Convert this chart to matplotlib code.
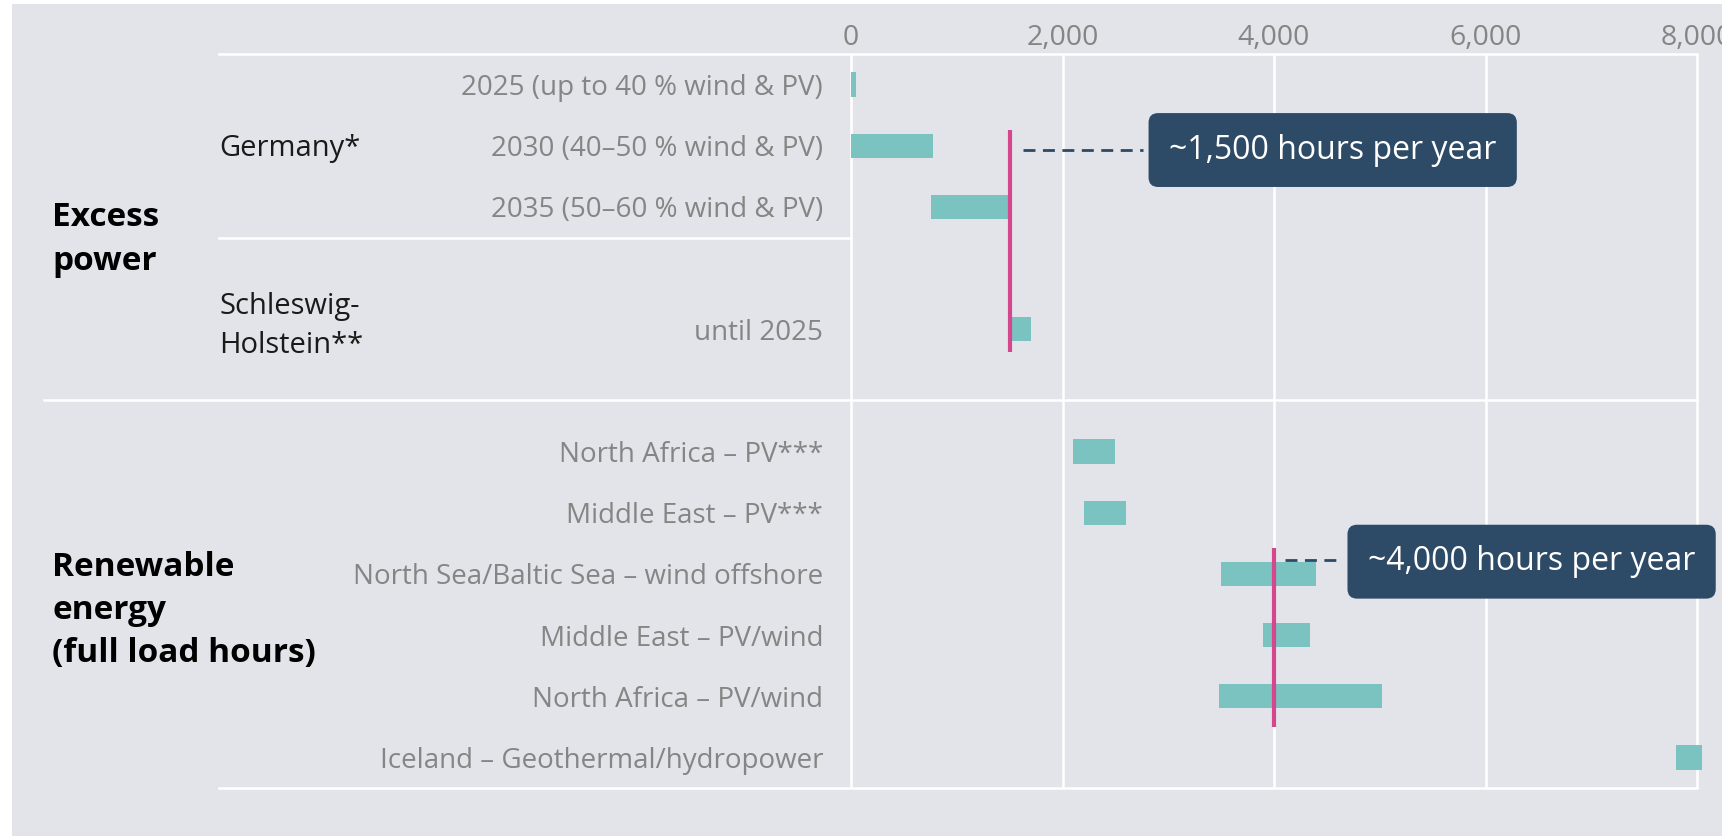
import matplotlib.pyplot as plt
import matplotlib.transforms as mtransforms
from matplotlib.patches import Rectangle

# hours per year ranges (low / high) for each row
labels = ["2025 (up to 40 % wind & PV)", "2030 (40–50 % wind & PV)",
          "2035 (50–60 % wind & PV)", "until 2025",
          "North Africa – PV***", "Middle East – PV***",
          "North Sea/Baltic Sea – wind offshore", "Middle East – PV/wind",
          "North Africa – PV/wind", "Iceland – Geothermal/hydropower"]
groups = ["Germany*", "Germany*", "Germany*", "Schleswig-\nHolstein**",
          "re", "re", "re", "re", "re", "re"]
low = [0, 0, 760, 1500, 2100, 2200, 3500, 3900, 3480, 7800]
high = [50, 780, 1490, 1700, 2500, 2600, 4400, 4340, 5020, 8050]

excess_level = 1500
renewable_level = 4000
xticks = [0, 2000, 4000, 6000, 8000]

BG = "#E3E4E9"
TEAL = "#7BC3C1"
PINK = "#D4478D"
NAVY = "#2D4A66"
GREY = "#858585"

plt.rcParams["font.family"] = ["Open Sans", "DejaVu Sans"]

W, H = 1722, 836
fig = plt.figure(figsize=(W / 100, H / 100), dpi=100, facecolor="white")
fig.patches.append(Rectangle((12 / W, 0), 1, (H - 4) / H, transform=fig.transFigure,
                             facecolor=BG, edgecolor="none", zorder=-10))

ax = fig.add_axes([851 / W, (H - 788) / H, 846 / W, 734 / H])
ax.set_facecolor("none")

# row positions: one empty row between groups
ypos = []
y = 0
for i, g in enumerate(groups):
    if i > 0 and g != groups[i - 1]:
        y += 1
    ypos.append(y)
    y += 1 if i < len(groups) - 1 else 0

ax.set_xlim(0, 8000)
ax.set_ylim(ypos[-1] + 0.5, -0.5)

for s in ax.spines.values():
    s.set_visible(False)

# vertical grid
for xv in xticks:
    ax.plot([xv, xv], [-0.5, ypos[-1] + 0.5], color="white", lw=1.8, zorder=1,
            clip_on=False, solid_capstyle="butt")

# horizontal rules in figure-x / data-y coordinates
tr = mtransforms.blended_transform_factory(fig.transFigure, ax.transData)
LW = 1.8
ax.plot([219 / W, 1697 / W], [-0.5, -0.5], color="white", lw=LW, transform=tr, clip_on=False)
ax.plot([219 / W, 851 / W], [2.5, 2.5], color="white", lw=LW, transform=tr, clip_on=False)
ax.plot([44 / W, 1697 / W], [5.15, 5.15], color="white", lw=LW, transform=tr, clip_on=False)
ax.plot([219 / W, 1697 / W], [ypos[-1] + 0.5] * 2, color="white", lw=LW, transform=tr, clip_on=False)

# range bars
widths = [h - l for l, h in zip(low, high)]
ax.barh(ypos, widths, left=low, height=0.4, color=TEAL, zorder=3, clip_on=False)

# reference lines
ax.plot([excess_level] * 2, [0.75, 4.38], color=PINK, lw=3, zorder=4, solid_capstyle="butt")
ax.plot([renewable_level] * 2, [7.57, 10.5], color=PINK, lw=3, zorder=4, solid_capstyle="butt")

# dashed leaders and callout boxes
ax.plot([1630, 2760], [1.07, 1.07], color=NAVY, lw=2, dashes=(4.3, 2.7), zorder=4)
ax.plot([4100, 4612], [7.78, 7.78], color=NAVY, lw=2, dashes=(4.3, 2.7), zorder=4)

box = dict(boxstyle="round,pad=0.64,rounding_size=0.3", fc=NAVY, ec="none")
ax.text(4555, 1.07, f"~{excess_level:,} hours per year", color="white", fontsize=23,
        ha="center", va="center", bbox=box, zorder=5)
ax.text(6436, 7.8, f"~{renewable_level:,} hours per year", color="white", fontsize=23,
        ha="center", va="center", bbox=box, zorder=5, clip_on=False)

# axis ticks
ax.xaxis.tick_top()
ax.set_xticks(xticks)
ax.set_xticklabels([f"{v:,}" for v in xticks], color=GREY, fontsize=20.5)
ax.set_yticks(ypos)
ax.set_yticklabels(labels, color=GREY, fontsize=20)
ax.tick_params(axis="x", length=0, pad=1.5)
ax.tick_params(axis="y", length=0, pad=20)

# group labels
ax.text(219 / W, 1.05, "Germany*", transform=tr, fontsize=21, color="#1A1A1A", va="center")
ax.text(219 / W, 3.95, "Schleswig-\nHolstein**", transform=tr, fontsize=21,
        color="#1A1A1A", va="center", linespacing=1.45)
ax.text(52 / W, 2.53, "Excess\npower", transform=tr, fontsize=24, fontweight="bold",
        color="black", va="center", linespacing=1.45)
ax.text(52 / W, 8.6, "Renewable\nenergy\n(full load hours)", transform=tr, fontsize=24,
        fontweight="bold", color="black", va="center", linespacing=1.4)

fig.savefig("out.png", dpi=100, facecolor=fig.get_facecolor())
